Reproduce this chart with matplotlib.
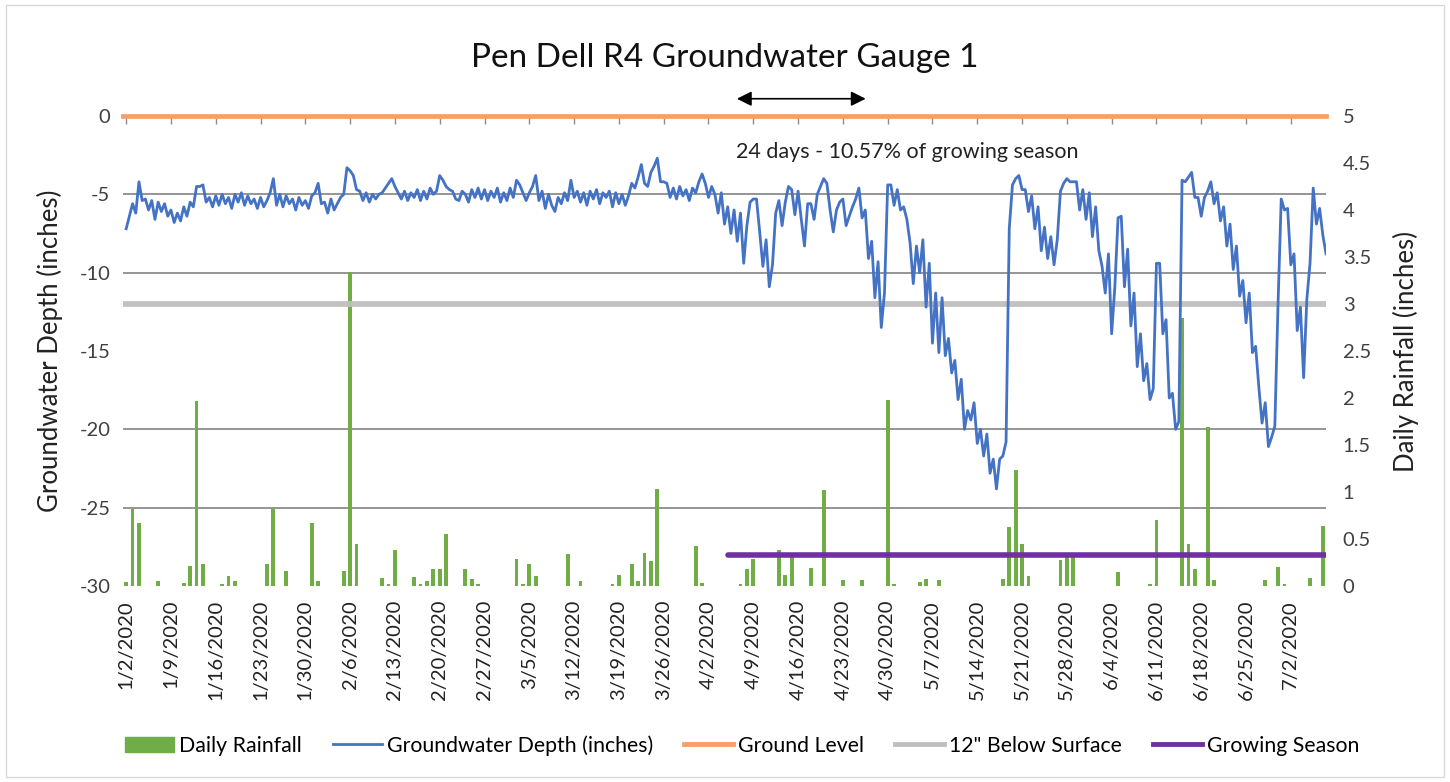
import pandas as pd
import matplotlib
matplotlib.use("Agg")
import matplotlib.pyplot as plt
from matplotlib.ticker import MultipleLocator, FuncFormatter
from matplotlib.patches import Patch, Rectangle
from matplotlib.lines import Line2D

plt.rcParams['font.family'] = ['Lato', 'DejaVu Sans']
plt.rcParams['axes.unicode_minus'] = False

# constants
start_date = "2020-01-02"
n_days = 188

# daily rainfall (inches), only the days with rain
rain_dates = ["2020-01-02", "2020-01-03", "2020-01-04", "2020-01-07", "2020-01-11", "2020-01-12",
              "2020-01-13", "2020-01-14", "2020-01-17", "2020-01-18", "2020-01-19", "2020-01-24",
              "2020-01-25", "2020-01-27", "2020-01-31", "2020-02-01", "2020-02-05", "2020-02-06",
              "2020-02-07", "2020-02-11", "2020-02-12", "2020-02-13", "2020-02-16", "2020-02-17",
              "2020-02-18", "2020-02-19", "2020-02-20", "2020-02-21", "2020-02-24", "2020-02-25",
              "2020-02-26", "2020-03-03", "2020-03-04", "2020-03-05", "2020-03-06", "2020-03-11",
              "2020-03-13", "2020-03-18", "2020-03-19", "2020-03-21", "2020-03-22", "2020-03-23",
              "2020-03-24", "2020-03-25", "2020-03-31", "2020-04-01", "2020-04-07", "2020-04-08",
              "2020-04-09", "2020-04-13", "2020-04-14", "2020-04-15", "2020-04-18", "2020-04-20",
              "2020-04-23", "2020-04-26", "2020-04-30", "2020-05-01", "2020-05-05", "2020-05-06",
              "2020-05-08", "2020-05-18", "2020-05-19", "2020-05-20", "2020-05-21", "2020-05-22",
              "2020-05-27", "2020-05-28", "2020-05-29", "2020-06-05", "2020-06-10", "2020-06-11",
              "2020-06-15", "2020-06-16", "2020-06-17", "2020-06-19", "2020-06-20", "2020-06-28",
              "2020-06-30", "2020-07-01", "2020-07-05", "2020-07-07"]
rain_values = [0.04, 0.82, 0.67, 0.05, 0.03, 0.21,
               1.97, 0.23, 0.02, 0.11, 0.05, 0.23,
               0.82, 0.16, 0.67, 0.05, 0.16, 3.34,
               0.45, 0.09, 0.02, 0.38, 0.10, 0.02,
               0.05, 0.18, 0.18, 0.55, 0.18, 0.08,
               0.02, 0.29, 0.02, 0.23, 0.11, 0.34,
               0.05, 0.02, 0.12, 0.23, 0.05, 0.35,
               0.27, 1.03, 0.43, 0.03, 0.02, 0.18,
               0.29, 0.38, 0.12, 0.31, 0.19, 1.02,
               0.06, 0.06, 1.98, 0.02, 0.04, 0.08,
               0.06, 0.08, 0.63, 1.23, 0.45, 0.11,
               0.28, 0.31, 0.31, 0.15, 0.02, 0.70,
               2.85, 0.45, 0.18, 1.69, 0.06, 0.06,
               0.20, 0.02, 0.09, 0.64]

# groundwater depth (inches), two readings a day starting 1/2/2020
groundwater_depth = [
    -7.2, -6.4, -5.6, -6.2, -4.2, -5.4, -5.3, -6.0, -5.4, -6.6, -5.5, -6.1, -5.6, -6.4,
    -6.0, -6.8, -6.2, -6.7, -5.8, -6.4, -5.5, -5.8, -4.5, -4.5, -4.4, -5.5, -5.2, -5.8,
    -5.1, -5.7, -5.0, -5.6, -5.2, -5.9, -5.0, -5.5, -4.9, -5.7, -5.1, -5.6, -5.3, -5.9,
    -5.2, -5.8, -5.4, -4.9, -4.0, -5.7, -5.0, -5.8, -5.1, -5.6, -5.3, -6.0, -5.2, -5.7,
    -5.4, -5.9, -5.1, -4.9, -4.3, -5.6, -5.5, -6.2, -5.3, -6.0, -5.6, -5.2, -5.0, -3.3,
    -3.5, -3.8, -4.7, -4.8, -5.4, -4.9, -5.5, -5.0, -5.3, -5.0, -4.9, -4.6, -4.3, -4.0,
    -4.5, -4.9, -5.3, -4.8, -5.4, -4.9, -5.2, -4.7, -5.4, -4.8, -5.3, -4.6, -5.0, -4.8,
    -3.8, -4.1, -4.5, -4.7, -4.8, -5.3, -5.4, -4.8, -5.0, -5.5, -4.7, -5.2, -4.6, -5.3,
    -4.7, -5.4, -4.8, -5.2, -4.6, -5.5, -4.9, -5.4, -4.6, -5.2, -4.1, -4.4, -4.9, -5.4,
    -4.9, -4.5, -3.8, -5.4, -4.8, -5.9, -5.0, -5.7, -6.1, -5.2, -5.6, -4.9, -5.4, -4.1,
    -5.2, -4.8, -5.5, -4.9, -5.7, -4.8, -5.3, -4.7, -5.6, -4.9, -5.2, -4.8, -5.8, -4.9,
    -5.6, -5.0, -5.7, -5.1, -4.3, -4.6, -3.9, -3.1, -4.3, -4.5, -3.6, -3.2, -2.7, -4.2,
    -4.2, -4.3, -5.2, -4.6, -5.3, -4.5, -5.1, -4.7, -5.4, -4.6, -4.9, -4.2, -3.7, -4.3,
    -5.2, -4.5, -5.0, -6.2, -4.9, -6.9, -5.8, -7.5, -6.0, -8.0, -6.2, -9.4, -7.0, -5.5,
    -5.3, -5.3, -7.4, -9.6, -7.9, -10.9, -9.5, -6.2, -5.4, -7.0, -5.5, -4.5, -4.7, -6.3,
    -4.8, -6.6, -8.3, -5.6, -5.6, -6.6, -5.0, -4.5, -4.0, -4.3, -6.0, -7.4, -6.0, -5.5,
    -5.3, -7.0, -6.4, -5.8, -5.3, -4.6, -6.5, -6.0, -9.1, -8.0, -11.6, -9.3, -13.5, -11.3,
    -4.4, -4.4, -5.7, -4.7, -6.0, -5.8, -6.6, -8.1, -10.7, -8.3, -10.0, -7.9, -12.2, -9.4,
    -14.5, -11.3, -15.1, -11.6, -15.3, -14.2, -16.4, -15.6, -18.1, -16.8, -20.0, -18.8, -19.4, -18.3,
    -20.9, -20.0, -21.7, -20.3, -22.8, -21.9, -23.8, -21.9, -21.7, -20.8, -7.2, -4.4, -4.0, -3.8,
    -4.7, -4.7, -6.1, -5.1, -7.2, -5.8, -8.6, -7.1, -9.1, -7.7, -9.5, -7.9, -4.8, -4.3,
    -4.0, -4.2, -4.2, -4.2, -6.0, -4.7, -6.6, -4.9, -7.7, -5.8, -8.6, -9.6, -11.3, -8.8,
    -13.9, -10.9, -6.5, -6.4, -10.9, -8.5, -13.4, -11.3, -16.0, -13.9, -16.9, -15.8, -18.1, -17.4,
    -9.4, -9.4, -13.9, -13.0, -18.0, -17.7, -20.0, -19.5, -4.1, -4.2, -3.9, -3.6, -5.2, -5.2,
    -6.4, -5.2, -4.8, -4.2, -5.6, -4.9, -6.7, -5.8, -8.3, -6.9, -9.8, -8.3, -11.5, -10.5,
    -13.2, -11.3, -15.1, -14.7, -17.3, -19.6, -18.3, -21.1, -20.5, -19.8, -12.0, -5.3, -6.0, -5.9,
    -9.5, -8.8, -13.7, -12.2, -16.7, -11.7, -9.4, -4.6, -6.9, -5.9, -7.6, -8.8,
]

ground_level = 0
below_surface_12 = -12
growing_season_start = "2020-04-05"
growing_season_level = -28
annotation_text = "24 days - 10.57% of growing season"
arrow_from = "2020-04-06"
arrow_to = "2020-04-27"

# colours
c_rain = "#70AD47"
c_gw = "#4472C4"
c_ground = "#F4A06A"
c_12 = "#BFBFBF"
c_gs = "#7030A0"
c_grid = "#8C8C8C"

# build series
days = pd.date_range(start_date, periods=n_days, freq="D")
gw_times = pd.date_range(start_date, periods=len(groundwater_depth), freq="12h")
rain = pd.Series(rain_values, index=pd.to_datetime(rain_dates))
x_min = days[0] - pd.Timedelta(hours=12)
x_max = days[-1] + pd.Timedelta(hours=12)
week_ticks = pd.date_range(start_date, "2020-07-02", freq="7D")
week_labels = [f"{d.month}/{d.day}/{d.year}" for d in week_ticks]

fig = plt.figure(figsize=(14.5, 7.82), dpi=100)
ax_rain = fig.add_axes([0.0848, 0.2506, 0.8297, 0.6011])
ax = ax_rain.twinx()

# rainfall bars on the right axis (drawn first so the lines sit on top)
ax_rain.bar(rain.index, rain.values, width=0.6, color=c_rain, zorder=2)
ax_rain.set_ylim(0, 5)
ax_rain.yaxis.tick_right()
ax_rain.yaxis.set_label_position("right")
ax_rain.yaxis.set_major_locator(MultipleLocator(0.5))
ax_rain.yaxis.set_major_formatter(FuncFormatter(lambda v, p: f"{v:g}"))
# gridlines every 5 inches of depth = every 5/6 inch of rain axis
ax_rain.yaxis.set_minor_locator(MultipleLocator(5 / 6))
ax_rain.grid(axis="y", which="minor", color=c_grid, lw=1.3, zorder=1)
ax_rain.tick_params(axis="y", which="minor", length=0)
ax_rain.tick_params(axis="y", which="major", length=0, pad=12, labelsize=14.5, colors="#404040")
ax_rain.set_ylabel("Daily Rainfall (inches)", fontsize=18.5, labelpad=16, color="#222222")

# x axis: tick marks along the zero line, labels at the bottom
ax_rain.set_xlim(x_min, x_max)
ax_rain.set_xticks(week_ticks)
ax_rain.set_xticklabels(week_labels)
ax_rain.tick_params(axis="x", bottom=False, top=True, labelbottom=True, labeltop=False,
                    direction="in", length=6, width=1, color=c_grid, pad=10,
                    labelrotation=90, labelsize=14.5, labelcolor="#222222")

# groundwater depth on the left axis
ax.plot(gw_times, groundwater_depth, color=c_gw, lw=2.0, zorder=4)
ax.axhline(ground_level, color=c_ground, lw=3.4, zorder=5, clip_on=False)
ax.axhline(below_surface_12, color=c_12, lw=4.2, alpha=0.95, zorder=3)
ax.plot([pd.Timestamp(growing_season_start), x_max], [growing_season_level] * 2,
        color=c_gs, lw=4.0, solid_capstyle="round", zorder=5)
ax.set_ylim(-30, 0)
ax.yaxis.tick_left()
ax.yaxis.set_label_position("left")
ax.yaxis.set_major_locator(MultipleLocator(5))
ax.tick_params(axis="y", length=0, pad=9, labelsize=14.5, colors="#404040")
ax.set_ylabel("Groundwater Depth (inches)", fontsize=18.5, labelpad=12, color="#222222")
ax.set_xlim(x_min, x_max)

for a in (ax, ax_rain):
    for s in a.spines.values():
        s.set_visible(False)

# growing season annotation above the plot
ax.annotate("", xy=(pd.Timestamp(arrow_to), 1.1), xytext=(pd.Timestamp(arrow_from), 1.1),
            arrowprops=dict(arrowstyle="<|-|>", color="black", lw=1.2, mutation_scale=22),
            annotation_clip=False)
ax.text(pd.Timestamp("2020-05-03"), -2.3, annotation_text, fontsize=15.5,
        ha="center", va="center", color="#222222")

fig.suptitle("Pen Dell R4 Groundwater Gauge 1", fontsize=24, y=0.945, color="#111111")

handles = [
    Patch(color=c_rain),
    Line2D([], [], color=c_gw, lw=2.0),
    Line2D([], [], color=c_ground, lw=3.5),
    Line2D([], [], color=c_12, lw=3.5),
    Line2D([], [], color=c_gs, lw=3.5),
]
labels = ["Daily Rainfall", "Groundwater Depth (inches)", "Ground Level",
          "12\" Below Surface", "Growing Season"]
fig.legend(handles, labels, loc="center", bbox_to_anchor=(0.512, 0.047), ncol=5,
           frameon=False, fontsize=15.3, handlelength=2.3, handletextpad=0.25,
           columnspacing=1.45)

# thin border round the chart
fig.patches.append(Rectangle((0.004, 0.006), 0.992, 0.988, transform=fig.transFigure,
                             fill=False, edgecolor="#D9D9D9", lw=1))

fig.savefig("out.png", dpi=100)
